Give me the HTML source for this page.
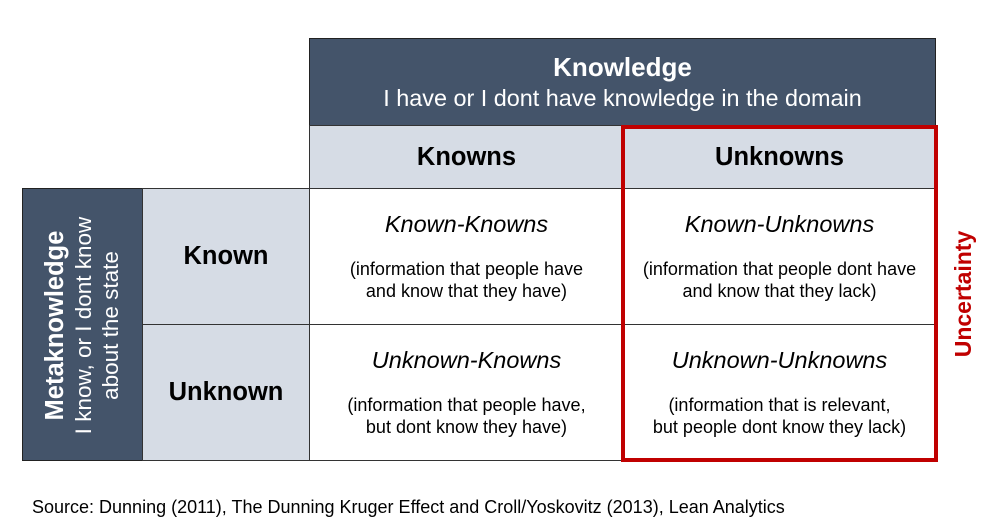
<!DOCTYPE html><html><head><style>
body{margin:0;width:1000px;height:528px;background:#fff;position:relative;font-family:"Liberation Sans",sans-serif;overflow:hidden}
div{position:absolute;box-sizing:border-box}
.c{display:flex;flex-direction:column;align-items:center;justify-content:center;text-align:center}
.dk{background:#44546A;color:#fff;border:1px solid #222}
.lt{background:#D6DCE5;border:1px solid #333}
.w{background:#fff;border:1px solid #333}
.t{font-style:italic;font-size:23.5px;margin-bottom:20px}
.s{font-size:18px;line-height:22px}
.h{font-weight:bold;font-size:25.5px}
</style></head><body>
<div class="dk c" style="left:309px;top:38px;width:627px;height:88px"><div style="position:static;font-weight:bold;font-size:26px">Knowledge</div><div style="position:static;font-size:23.4px;margin-top:2px">I have or I dont have knowledge in the domain</div></div>
<div class="lt c h" style="left:309px;top:125px;width:315px;height:64px">Knowns</div>
<div class="lt c h" style="left:623px;top:125px;width:313px;height:64px">Unknowns</div>
<div class="dk" style="left:22px;top:188px;width:121px;height:273px"></div>
<div class="c" style="left:-54px;top:265px;width:273px;height:121px;transform:rotate(-90deg);color:#fff"><div style="position:static;font-weight:bold;font-size:25.5px">Metaknowledge</div><div style="position:static;font-size:22.5px;line-height:27px">I know, or I dont know<br>about the state</div></div>
<div class="lt c h" style="left:142px;top:188px;width:168px;height:137px">Known</div>
<div class="lt c h" style="left:142px;top:324px;width:168px;height:137px">Unknown</div>
<div class="w c" style="left:309px;top:188px;width:315px;height:137px"><div class="t" style="position:static">Known-Knowns</div><div class="s" style="position:static">(information that people have<br>and know that they have)</div></div>
<div class="w c" style="left:623px;top:188px;width:313px;height:137px"><div class="t" style="position:static">Known-Unknowns</div><div class="s" style="position:static">(information that people dont have<br>and know that they lack)</div></div>
<div class="w c" style="left:309px;top:324px;width:315px;height:137px"><div class="t" style="position:static">Unknown-Knowns</div><div class="s" style="position:static">(information that people have,<br>but dont know they have)</div></div>
<div class="w c" style="left:623px;top:324px;width:313px;height:137px"><div class="t" style="position:static">Unknown-Unknowns</div><div class="s" style="position:static">(information that is relevant,<br>but people dont know they lack)</div></div>
<div style="left:621px;top:125px;width:317px;height:337px;border:4px solid #C00000"></div>
<div class="c" style="left:893px;top:279px;width:140px;height:30px;transform:rotate(-90deg);color:#C00000;font-weight:bold;font-size:23px">Uncertainty</div>
<div style="left:32px;top:497px;font-size:18px">Source: Dunning (2011), The Dunning Kruger Effect and Croll/Yoskovitz (2013), Lean Analytics</div>
</body></html>
